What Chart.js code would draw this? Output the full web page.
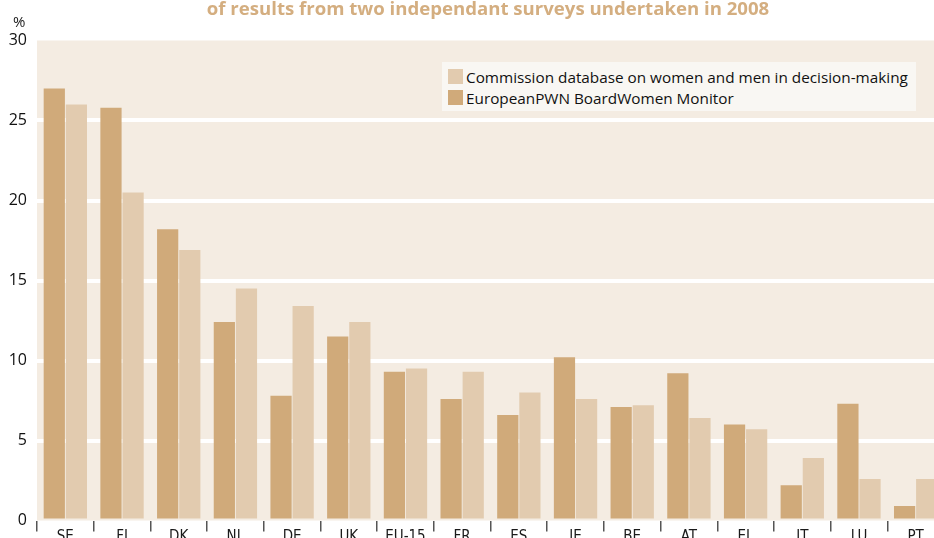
<!DOCTYPE html>
<html>
<head>
<meta charset="utf-8">
<script src="https://cdn.jsdelivr.net/npm/chart.js@4"></script>
<style>
  html, body { margin: 0; padding: 0; background: #ffffff; overflow: hidden; }
  #wrap { position: relative; width: 944px; height: 560px; }
  #title { position: absolute; left: 0; width: 976px; top: -5px; text-align: center;
    font: bold 18.6px "Open Sans", sans-serif; color: #D4AE80; white-space: nowrap; }
  #unit { position: absolute; left: 13px; top: 11px; font: 15px "Open Sans", sans-serif; color: #1a1a1a; }
  #legend { position: absolute; left: 442px; top: 62px; width: 474px; height: 49px;
    background: #F9F7F3; font: 15.3px "Open Sans", sans-serif; color: #111111; }
  .item { position: absolute; left: 6px; height: 16px; line-height: 16px; white-space: nowrap; }
  .sw { display: inline-block; width: 15px; height: 15px; vertical-align: top; margin-right: 3px; }
</style>
</head>
<body>
<div id="wrap">
  <canvas id="chart"></canvas>
  <div id="title">of results from two independant surveys undertaken in 2008</div>
  <div id="unit">%</div>
  <div id="legend"></div>
</div>
<script>
// données
const categories = ['SE', 'FI', 'DK', 'NL', 'DE', 'UK', 'EU-15', 'FR', 'ES', 'IE', 'BE', 'AT', 'EL', 'IT', 'LU', 'PT'];
const pwnValues = [27.0, 25.8, 18.2, 12.4, 7.8, 11.5, 9.3, 7.6, 6.6, 10.2, 7.1, 9.2, 6.0, 2.2, 7.3, 0.9];
const commissionValues = [26.0, 20.5, 16.9, 14.5, 13.4, 12.4, 9.5, 9.3, 8.0, 7.6, 7.2, 6.4, 5.7, 3.9, 2.6, 2.6];
const yTicks = [0, 5, 10, 15, 20, 25, 30];

const seriesNames = ['EuropeanPWN BoardWomen Monitor', 'Commission database on women and men in decision-making'];
const seriesColors = ['#D0AA7A', '#E2CBAF'];

// fond beige de la zone de tracé
const plotBg = {
    id: 'plotBg',
    beforeDraw(chart) {
        const { ctx, chartArea: a } = chart;
        ctx.save();
        ctx.fillStyle = '#F4ECE2';
        ctx.fillRect(a.left, a.top, a.right - a.left, a.bottom - a.top);
        ctx.restore();
    }
};

const ctx = document.getElementById('chart').getContext('2d');
new Chart(ctx, {
    type: 'bar',
    data: {
        labels: categories,
        datasets: [
            { label: seriesNames[0], data: pwnValues, backgroundColor: seriesColors[0] },
            { label: seriesNames[1], data: commissionValues, backgroundColor: seriesColors[1] }
        ]
    },
    options: {
        responsive: true,
        maintainAspectRatio: false,
        animation: false,
        datasets: { bar: { categoryPercentage: 0.78, barPercentage: 0.96 } },
        layout: { padding: { top: 40.5, left: 0, right: 0, bottom: 0 } },
        plugins: { legend: { display: false }, tooltip: { enabled: false } },
        scales: {
            x: {
                border: { display: false },
                grid: { offset: true, drawOnChartArea: false, drawTicks: true, tickLength: 11, color: '#555555', lineWidth: 1.5 },
                ticks: { padding: -3, color: '#1a1a1a', font: { family: '"Liberation Sans Narrow", "DejaVu Sans Condensed", sans-serif', size: 15 } },
                afterFit(scale) { scale.height = 39.5; }
            },
            y: {
                min: 0,
                max: 30,
                border: { display: false },
                afterBuildTicks(scale) { scale.ticks = yTicks.map(v => ({ value: v })); },
                afterFit(scale) { scale.width = 37; },
                grid: {
                    drawTicks: false,
                    lineWidth: 4,
                    color: c => (c.tick && (c.tick.value === 0 || c.tick.value === 30)) ? 'rgba(0,0,0,0)' : '#ffffff'
                },
                ticks: { padding: 10, color: '#111111', font: { family: '"Open Sans", sans-serif', size: 16 } }
            }
        }
    },
    plugins: [plotBg]
});

// légende dans l'ordre de la figure
const legend = document.getElementById('legend');
[1, 0].forEach((i, row) => {
    const el = document.createElement('div');
    el.className = 'item';
    el.style.top = (7 + row * 21) + 'px';
    el.innerHTML = `<span class="sw" style="background:${seriesColors[i]}"></span>${seriesNames[i]}`;
    legend.appendChild(el);
});
</script>
</body>
</html>
